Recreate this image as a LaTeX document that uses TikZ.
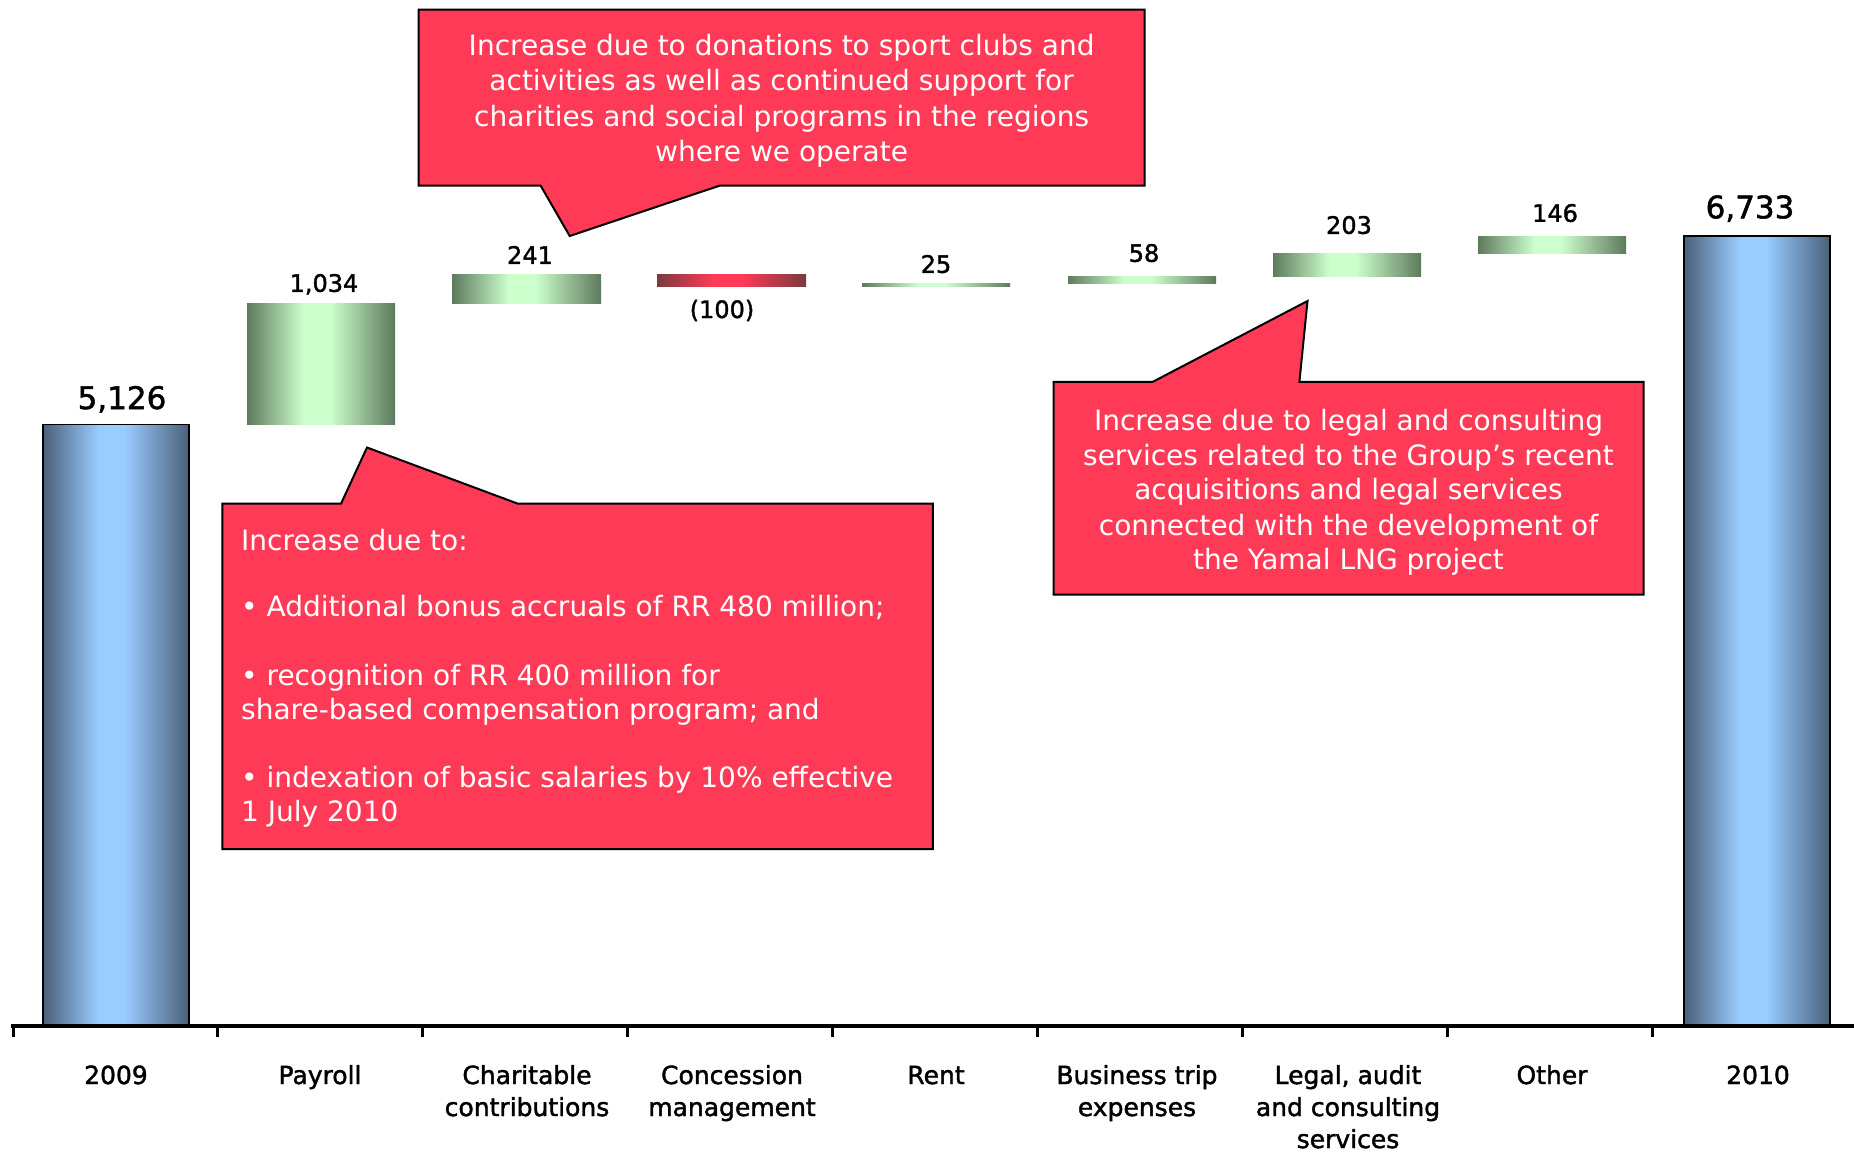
\documentclass[tikz,border=0pt]{standalone}
\usepackage{fontspec}
\setmainfont{DejaVu Sans}
\newfontfamily\lblfont{DejaVu Sans}[FakeBold=1.6]
\definecolor{cred}{RGB}{255,58,87}
\definecolor{bdark}{RGB}{74,96,122}
\definecolor{blight}{RGB}{153,204,255}
\definecolor{gdark}{RGB}{94,122,94}
\definecolor{glight}{RGB}{204,255,204}
\definecolor{rdark}{RGB}{122,58,64}
\pgfdeclarehorizontalshading{blueshade}{100bp}{color(0bp)=(bdark); color(25bp)=(bdark); color(44bp)=(blight); color(53bp)=(blight); color(75bp)=(bdark); color(100bp)=(bdark)}
\pgfdeclarehorizontalshading{greenshade}{100bp}{color(0bp)=(gdark); color(25bp)=(gdark); color(44bp)=(glight); color(53bp)=(glight); color(75bp)=(gdark); color(100bp)=(gdark)}
\pgfdeclarehorizontalshading{redshade}{100bp}{color(0bp)=(rdark); color(25bp)=(rdark); color(44bp)=(cred); color(53bp)=(cred); color(75bp)=(rdark); color(100bp)=(rdark)}
\tikzset{
 callout/.style={fill=cred, draw=black, line width=2pt, line join=miter},
 ctext/.style={text=white, font=\fontsize{28}{34}\selectfont, inner sep=0pt},
 vlabel/.style={font=\lblfont\fontsize{24}{28}\selectfont, inner sep=0pt, anchor=base},
 biglabel/.style={font=\lblfont\fontsize{31}{36}\selectfont, inner sep=0pt, anchor=base},
 catlabel/.style={font=\lblfont\fontsize{25}{32}\selectfont, inner sep=0pt, anchor=base},
 bluebar/.style={shading=blueshade, draw=black, line width=1.8pt},
 greenbar/.style={shading=greenshade},
 redbar/.style={shading=redshade},
}
\begin{document}
\begin{tikzpicture}[x=1pt,y=-1pt]
\useasboundingbox[fill=white] (0,0) rectangle (1854,1152);
% bars
\shade[bluebar] (43,424.5) rectangle (189,1026);
\shade[greenbar] (247,424.5) rectangle (395,303.2);
\shade[greenbar] (452,303.2) rectangle (601,274.9);
\shade[redbar] (657,274.9) rectangle (806,286.6);
\shade[greenbar] (862,286.6) rectangle (1010,283.4);
\shade[greenbar] (1068,283.9) rectangle (1216,276.9);
\shade[greenbar] (1273,276.9) rectangle (1421,253.1);
\shade[greenbar] (1478,253.1) rectangle (1626,236.0);
\shade[bluebar] (1684,236) rectangle (1830,1026);
% axis
\draw[line width=4pt] (11,1026) -- (1854,1026);
\foreach \k in {0,...,8} {\draw[line width=3pt] ({13+204.9*\k},1026) -- ({13+204.9*\k},1037);}
% value labels
\node[biglabel] (v0) at (122,409) {5,126};
\node[vlabel] (v1) at (324,291.8) {1,034};
\node[vlabel] (v2) at (530,263.8) {241};
\node[vlabel] (v3) at (722,318) {(100)};
\node[vlabel] (v4) at (936,272.8) {25};
\node[vlabel] (v5) at (1144,261.8) {58};
\node[vlabel] (v6) at (1349,233.8) {203};
\node[vlabel] (v7) at (1555,221.8) {146};
\node[biglabel] (v8) at (1750,218.3) {6,733};
% category labels
\node[catlabel] (c0) at (116,1084) {2009};
\node[catlabel] (c1) at (320,1084) {Payroll};
\node[catlabel] (c2a) at (527,1084) {Charitable};
\node[catlabel] (c2b) at (527,1116) {contributions};
\node[catlabel] (c3a) at (732,1084) {Concession};
\node[catlabel] (c3b) at (732,1116) {management};
\node[catlabel] (c4) at (936,1084) {Rent};
\node[catlabel] (c5a) at (1137,1084) {Business trip};
\node[catlabel] (c5b) at (1137,1116) {expenses};
\node[catlabel] (c6a) at (1348,1084) {Legal, audit};
\node[catlabel] (c6b) at (1348,1116) {and consulting};
\node[catlabel] (c6c) at (1348,1148) {services};
\node[catlabel] (c7) at (1552,1084) {Other};
\node[catlabel] (c8) at (1758,1084) {2010};
% callout 1
\draw[callout] (418.6,9.5) -- (1144.6,9.5) -- (1144.6,185.6) -- (719.8,185.6) -- (569.7,236) -- (540.6,185.6) -- (418.6,185.6) -- cycle;
\node[ctext, anchor=base] (t1a) at (781.6,55.2) {Increase due to donations to sport clubs and};
\node[ctext, anchor=base] (t1b) at (781.6,90.6) {activities as well as continued support for};
\node[ctext, anchor=base] (t1c) at (781.6,126.1) {charities and social programs in the regions};
\node[ctext, anchor=base] (t1d) at (781.6,161.5) {where we operate};
% callout 2
\draw[callout] (222.3,503.7) -- (341,503.7) -- (367,447.5) -- (517.9,503.7) -- (932.9,503.7) -- (932.9,849) -- (222.3,849) -- cycle;
\node[ctext, anchor=base west] (t2a) at (241,550.6) {Increase due to:};
\node[ctext, anchor=base west] (t2b) at (241,616.8) {•\ Additional bonus accruals of RR 480 million;};
\node[ctext, anchor=base west] (t2c) at (241,685.3) {•\ recognition of RR 400 million for};
\node[ctext, anchor=base west] (t2d) at (241,719.6) {share-based compensation program; and};
\node[ctext, anchor=base west] (t2e) at (241,787) {•\ indexation of basic salaries by 10\% effective};
\node[ctext, anchor=base west] (t2f) at (241,821.3) {1 July 2010};
% callout 3
\draw[callout] (1053.5,381.9) -- (1152.6,381.9) -- (1307.5,301) -- (1299.4,381.9) -- (1643.5,381.9) -- (1643.5,594.7) -- (1053.5,594.7) -- cycle;
\node[ctext, anchor=base] (t3a) at (1348.5,430) {Increase due to legal and consulting};
\node[ctext, anchor=base] (t3b) at (1348.5,465.4) {services related to the Group’s recent};
\node[ctext, anchor=base] (t3c) at (1348.5,499.7) {acquisitions and legal services};
\node[ctext, anchor=base] (t3d) at (1348.5,535.2) {connected with the development of};
\node[ctext, anchor=base] (t3e) at (1348.5,569.5) {the Yamal LNG project};
\end{tikzpicture}
\end{document}
